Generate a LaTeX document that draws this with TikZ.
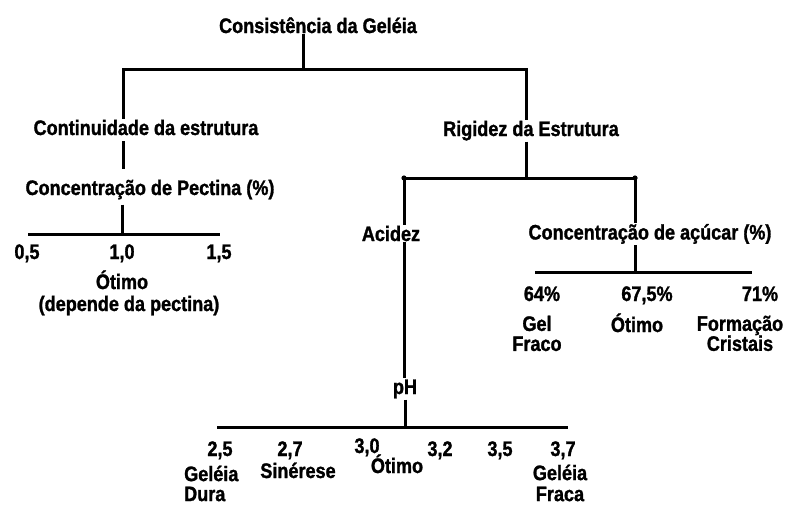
\documentclass[tikz,border=0pt]{standalone}
\usepackage{fontspec}
\setmainfont{Liberation Sans}[FakeStretch=0.86, BoldFeatures={FakeBold=1.3}]
\begin{document}
\begin{tikzpicture}[x=1pt,y=-1pt,
  lbl/.style={font=\bfseries\fontsize{21}{22}\selectfont, anchor=base, inner sep=1pt, text=black},
  two/.style={font=\bfseries\fontsize{21}{#1}\selectfont, align=center, anchor=north, inner sep=1pt, text=black},
  ln/.style={line width=3pt, draw=black},
  enddot/.style={fill=black}
]
\useasboundingbox (0,0) rectangle (785,506);
\fill[white] (0,0) rectangle (785,506);

% --- text nodes ---
\node[lbl] (title) at (318,33) {Consistência da Geléia};
\node[lbl] (cont) at (146,135) {Continuidade da estrutura};
\node[lbl] (pect) at (150,195) {Concentração de Pectina (\%)};
\node[lbl] (p05) at (27,259) {0,5};
\node[lbl] (p10) at (122,259) {1,0};
\node[lbl] (p15) at (219,259) {1,5};
\node[lbl] (potimo) at (122,289) {Ótimo};
\node[lbl] (pdep) at (129,311) {(depende da pectina)};

\node[lbl] (rig) at (531,136) {Rigidez da Estrutura};
\node[lbl] (acid) at (391,241) {Acidez};
\node[lbl] (acuc) at (650,239.5) {Concentração de açúcar (\%)};
\node[lbl] (s64) at (542,301) {64\%};
\node[lbl] (s675) at (647,301) {67,5\%};
\node[lbl] (s71) at (760,301) {71\%};
\node[two=20pt] (gel) at (537,314.5) {Gel\\Fraco};
\node[lbl] (sotimo) at (637,332) {Ótimo};
\node[two=20pt] (form) at (740,314.5) {Formação\\Cristais};

\node[lbl] (ph) at (405,394) {pH};
\node[lbl] (h25) at (220,456) {2,5};
\node[lbl] (h27) at (290,456) {2,7};
\node[lbl] (h30) at (367,453) {3,0};
\node[lbl] (h32) at (440,456) {3,2};
\node[lbl] (h35) at (500,456) {3,5};
\node[lbl] (h37) at (563,456) {3,7};
\node[two=20pt, align=left, anchor=north west] (gd) at (183,464.5) {Geléia\\Dura};
\node[lbl] (siner) at (298,478) {Sinérese};
\node[lbl] (hotimo) at (397,473) {Ótimo};
\node[two=21pt] (gf) at (560,463.5) {Geléia\\Fraca};

% --- junction coordinates ---
\coordinate (t1) at (303,69);
\coordinate (t2) at (123,69);
\coordinate (t3) at (526,69);
\coordinate (pa) at (122,234);
\coordinate (pl) at (28,234);
\coordinate (pr) at (220,234);
\coordinate (r0) at (526,178);
\coordinate (rl) at (404,178);
\coordinate (rr) at (635,178);
\coordinate (sa) at (635,272);
\coordinate (sl) at (535,272);
\coordinate (sr) at (752,272);
\coordinate (ha) at (405,427);
\coordinate (hl) at (217,427);
\coordinate (hr) at (568,427);

% --- connectors ---
\draw[ln] (title.south -| t1) -- (t1);
\draw[ln] (cont.north -| t2) -- (t2) -- (t3) -- (rig.north -| t3);
\draw[ln, shorten <=5pt, shorten >=10pt] (cont.south -| t2) -- (pect.north -| t2);
\draw[ln, shorten <=4pt] (pect.south -| pa) -- (pa);
\draw[ln] (pl) -- (pr);

\draw[ln] (rig.south -| r0) -- (r0);
\draw[ln] (rl) -- (rr);
\fill[enddot] (rl) circle (2.6);
\fill[enddot] (rr) circle (2.6);
\draw[ln] (rl) -- (acid.north -| rl);
\draw[ln] (acid.south -| rl) -- (ph.north -| rl);
\draw[ln] (ph.south -| ha) -- (ha);
\draw[ln] (hl) -- (hr);

\draw[ln] (rr) -- (acuc.north -| rr);
\draw[ln] (acuc.south -| sa) -- (sa);
\draw[ln] (sl) -- (sr);
\end{tikzpicture}
\end{document}
